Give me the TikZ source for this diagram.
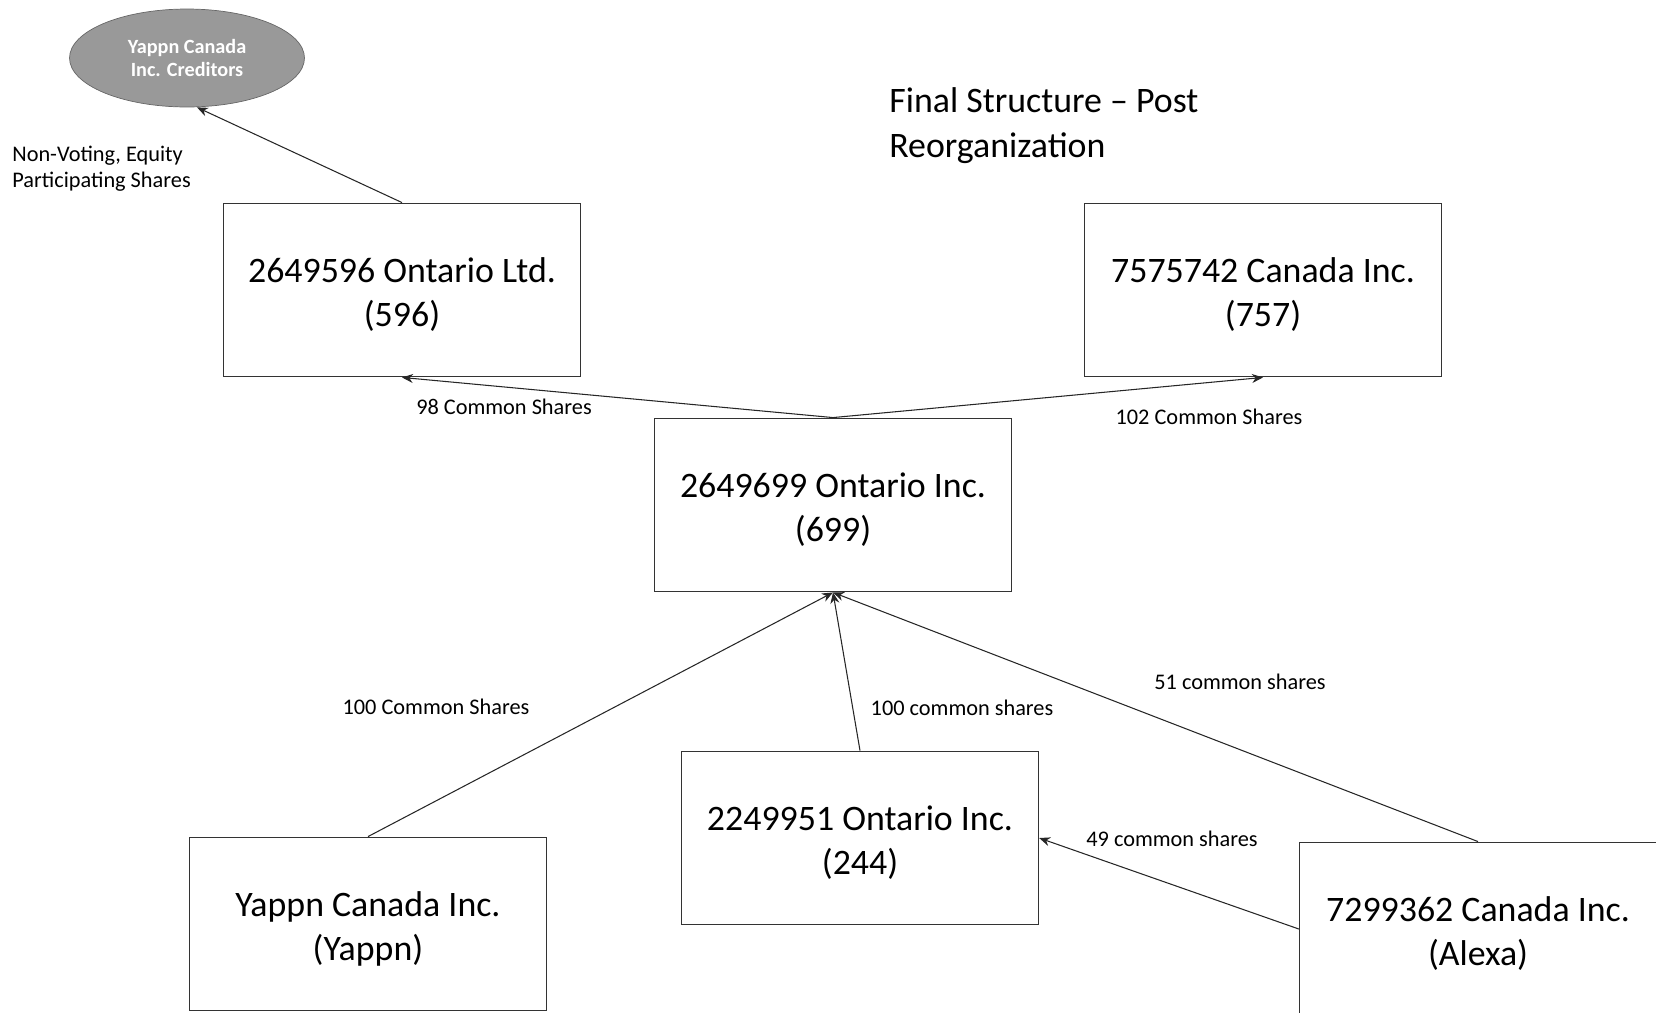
\documentclass[tikz,border=0pt]{standalone}
\usepackage{fontspec}
\setmainfont{Carlito}
\usetikzlibrary{shapes.geometric,arrows.meta}

\begin{document}
\begin{tikzpicture}[x=0.02cm, y=-0.02cm,
Cnode/.style={rectangle, draw=black!80, thick, minimum width=7.14cm, minimum height=3.47cm, inner sep=0pt},
Ctext/.style={align=center, inner sep=0pt, yshift=-0.09cm, font=\fontsize{20.4}{25}\selectfont},
Hnode/.style={ellipse, draw=black!60, fill=black!40, minimum width=4.7cm, minimum height=1.96cm, align=center, inner sep=0pt, text=white, font=\bfseries\fontsize{11.5}{13}\selectfont},
Snode/.style={align=left, inner sep=0pt, font=\fontsize{12.7}{15}\selectfont},
Sline/.style={-{Stealth[length=2.2mm,width=1.8mm]}, draw=black!85, semithick}
]
\clip (0,0) rectangle (1656,1012);
%Nodes
\node[Hnode] (Cred) at (187,58) {Yappn Canada\\Inc. Creditors};
\node[Cnode][label={[Ctext]center:{2649596 Ontario Ltd.\\(596)}}] (B596) at (402,290) {};
\node[Cnode][label={[Ctext]center:{7575742 Canada Inc.\\(757)}}] (B757) at (1263,290) {};
\node[Cnode][label={[Ctext]center:{2649699 Ontario Inc.\\(699)}}] (B699) at (833,505) {};
\node[Cnode][label={[Ctext]center:{2249951 Ontario Inc.\\(244)}}] (B244) at (860,838) {};
\node[Cnode][label={[Ctext]center:{Yappn Canada Inc.\\(Yappn)}}] (BYap) at (368,924) {};
\node[Cnode][label={[Ctext]center:{7299362 Canada Inc.\\(Alexa)}}] (BAlx) at (1478,929) {};
\node[anchor=west, align=left, inner sep=0pt, font=\fontsize{20.4}{25.5}\selectfont] (Title) at (889,126) {Final Structure -- Post\\Reorganization};
%Labels
\node[Snode, anchor=west] (L1) at (12,169) {Non-Voting, Equity\\Participating Shares};
\node[Snode] (L2) at (504,407) {98 Common Shares};
\node[Snode] (L3) at (1209,417) {102 Common Shares};
\node[Snode] (L4) at (436,707) {100 Common Shares};
\node[Snode] (L5) at (962,708) {100 common shares};
\node[Snode] (L6) at (1240,682) {51 common shares};
\node[Snode] (L7) at (1172,839) {49 common shares};
%Lines
\draw[Sline] (B596.north) -- ([xshift=0.2cm]Cred.south);
\draw[Sline] (B699.north) -- (B596.south);
\draw[Sline] (B699.north) -- (B757.south);
\draw[Sline] (BYap.north) -- (B699.south);
\draw[Sline] (B244.north) -- (B699.south);
\draw[Sline] (BAlx.north) -- (B699.south);
\draw[Sline] (BAlx.west) -- (B244.east);
\end{tikzpicture}
\end{document}
